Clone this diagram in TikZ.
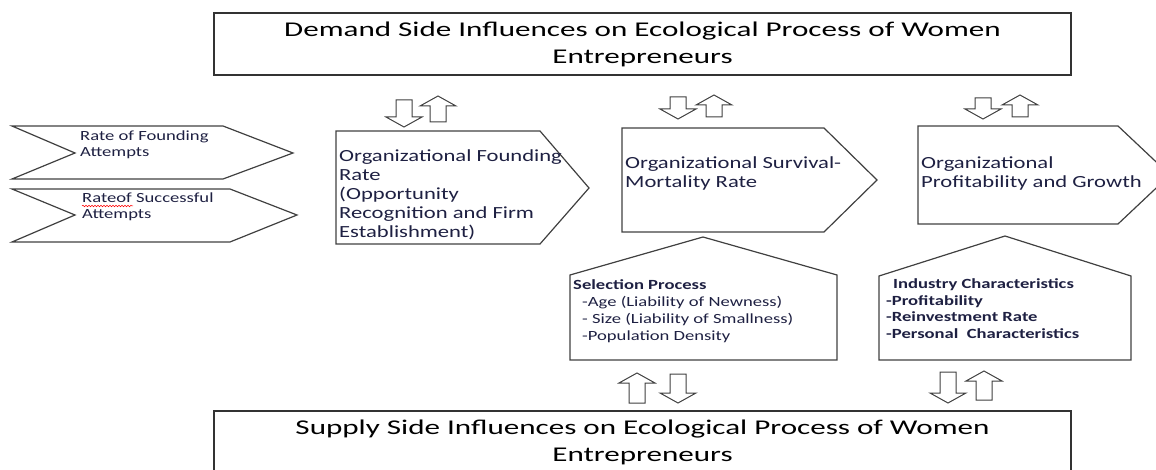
\documentclass[tikz,border=0pt]{standalone}
\usepackage{fontspec}
\setmainfont[FakeStretch=1.33]{Carlito}
\newfontfamily\titlefont[FakeStretch=1.48]{Carlito}
\usetikzlibrary{decorations.pathmorphing}

\definecolor{linegray}{RGB}{64,64,64}
\definecolor{bodyblue}{RGB}{30,32,66}

% hollow block arrows: centre x, top y, tip y / tip y, bottom y
\newcommand{\dnblock}[3]{%
  \draw[blockarr] (#1-8,#2) -- (#1+8,#2) -- (#1+8,#3-10) -- (#1+18,#3-10)
    -- (#1,#3) -- (#1-18,#3-10) -- (#1-8,#3-10) -- cycle;}
\newcommand{\upblock}[3]{%
  \draw[blockarr] (#1-8,#3) -- (#1+8,#3) -- (#1+8,#2+10) -- (#1+18,#2+10)
    -- (#1,#2) -- (#1-18,#2+10) -- (#1-8,#2+10) -- cycle;}

\begin{document}
\begin{tikzpicture}[x=1pt,y=-1pt,
    outline/.style={draw=linegray,line width=1.2pt},
    blockarr/.style={draw=linegray,line width=1pt,fill=white},
    titlebox/.style={draw=black!80,line width=1.2pt,minimum width=857pt,minimum height=62pt,
      inner sep=0pt,align=center,font=\titlefont\fontsize{21}{27}\selectfont},
    bodytext/.style={anchor=base west,inner sep=0pt,align=left,text=bodyblue,
      font=\fontsize{17}{19}\selectfont},
    chevtext/.style={anchor=base west,inner sep=0pt,align=left,text=bodyblue,
      font=\fontsize{14}{16}\selectfont},
    housetext/.style={anchor=base west,inner sep=0pt,align=left,text=bodyblue,
      font=\fontsize{14}{17}\selectfont}]
  \useasboundingbox (0,0) rectangle (1156,470);

  % demand and supply side
  \node[titlebox] (demand) at (642.5,44) {Demand Side Influences on Ecological Process of Women\\Entrepreneurs};
  \node[titlebox] (supply) at (642.5,442) {Supply Side Influences on Ecological Process of Women\\Entrepreneurs};

  % attempts (text nodes sit on their last line)
  \draw[outline] (12,126) -- (223,126) -- (293,153) -- (223,179) -- (12,179) -- (75,153) -- cycle;
  \draw[outline] (12,189) -- (230,189) -- (297,215) -- (230,242) -- (12,242) -- (75,215) -- cycle;
  \node[chevtext] (attfound) at (80,157) {Rate of Founding\\Attempts};
  \node[chevtext] (attsucc) at (82,219) {Rateof Successful\\Attempts};
  \draw[red,line width=0.5pt,decorate,decoration={snake,amplitude=0.8pt,segment length=3pt}]
    (82,206) -- (133,206);

  % ecological stages
  \draw[outline] (336,131) -- (540,131) -- (589,188) -- (540,244) -- (336,244) -- cycle;
  \draw[outline] (622,128) -- (824,128) -- (877,180) -- (824,232) -- (622,232) -- cycle;
  \draw[outline] (918,126) -- (1118,126) -- (1170,175) -- (1118,224) -- (918,224) -- cycle;
  \node[bodytext] (founding) at (339,238) {Organizational Founding\\Rate\\(Opportunity\\Recognition and Firm\\Establishment)};
  \node[bodytext] (survival) at (625,188) {Organizational Survival-\\Mortality Rate};
  \node[bodytext] (growth) at (921,188) {Organizational\\Profitability and Growth};

  % selection and industry
  \draw[outline] (570,360) -- (570,275) -- (703,237) -- (837,275) -- (837,360) -- cycle;
  \draw[outline] (879,360) -- (879,276) -- (1005,236) -- (1131,276) -- (1131,360) -- cycle;
  \node[housetext] (selection) at (573,340) {\textbf{Selection Process}\\
    \hspace*{9pt}-Age (Liability of Newness)\\
    \hspace*{9pt}- Size (Liability of Smallness)\\
    \hspace*{9pt}-Population Density};
  \node[housetext,font=\fontsize{14}{16.5}\bfseries] (industry) at (886,338) {\hspace*{7pt}Industry Characteristics\\
    -Profitability\\-Reinvestment Rate\\-Personal\ \ Characteristics};

  % block arrows
  \dnblock{404}{100}{127} \upblock{438}{96}{122}
  \dnblock{678}{97}{119}  \upblock{714}{95}{117}
  \dnblock{983}{98}{119}  \upblock{1020}{95}{117}
  \upblock{637}{373}{403} \dnblock{678}{374}{403}
  \dnblock{948}{372}{403} \upblock{984}{371}{400}
\end{tikzpicture}
\end{document}
